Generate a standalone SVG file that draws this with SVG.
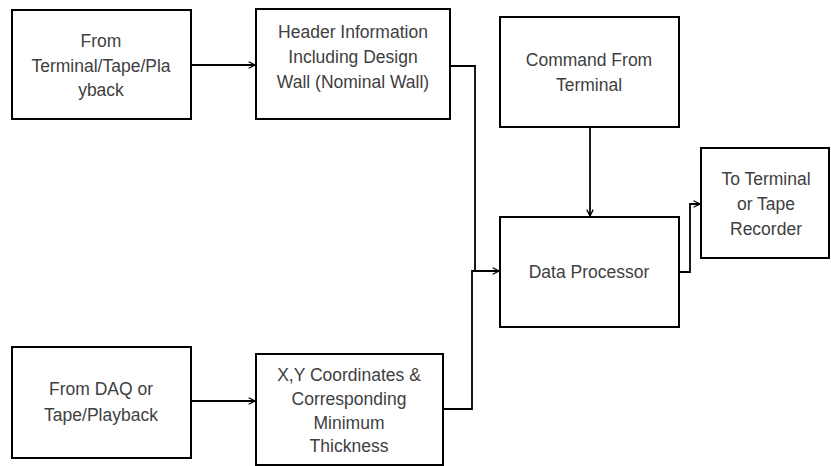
<svg xmlns="http://www.w3.org/2000/svg" width="831" height="466" viewBox="0 0 831 466">
<defs>
<marker id="arr" viewBox="0 0 10 10" refX="9" refY="5" markerWidth="8" markerHeight="8" markerUnits="userSpaceOnUse" orient="auto">
<path d="M1,1 L9,5 L1,9" fill="none" stroke="#000" stroke-width="1.6"/>
</marker>
<style>
.box{fill:#fff;stroke:#000;stroke-width:2}
.t{font-family:"Liberation Sans",Arial,sans-serif;font-size:17.5px;fill:#404040;text-anchor:middle}
.c{fill:none;stroke:#000;stroke-width:1.8}
</style>
</defs>
<rect width="831" height="466" fill="#fff"/>
<g id="n1"><rect class="box" x="12" y="10" width="179" height="109"/>
<text class="t" x="101" y="47">From</text><text class="t" x="101" y="72">Terminal/Tape/Pla</text><text class="t" x="101" y="96">yback</text></g>
<g id="n2"><rect class="box" x="256" y="9" width="194" height="110"/>
<text class="t" x="353" y="38">Header Information</text><text class="t" x="353" y="63">Including Design</text><text class="t" x="353" y="88">Wall (Nominal Wall)</text></g>
<g id="n3"><rect class="box" x="500" y="17" width="179" height="110"/>
<text class="t" x="589" y="66">Command From</text><text class="t" x="589" y="91">Terminal</text></g>
<g id="n4"><rect class="box" x="500" y="217" width="179" height="110"/>
<text class="t" x="589" y="278">Data Processor</text></g>
<g id="n5"><rect class="box" x="701" y="148" width="128" height="110"/>
<text class="t" x="766" y="185">To Terminal</text><text class="t" x="766" y="210">or Tape</text><text class="t" x="766" y="235">Recorder</text></g>
<g id="n6"><rect class="box" x="12" y="347" width="179" height="111"/>
<text class="t" x="101" y="395">From DAQ or</text><text class="t" x="101" y="421">Tape/Playback</text></g>
<g id="n7"><rect class="box" x="256" y="354" width="187" height="111"/>
<text class="t" x="349" y="381">X,Y Coordinates &amp;</text><text class="t" x="349" y="405">Corresponding</text><text class="t" x="349" y="429">Minimum</text><text class="t" x="349" y="452">Thickness</text></g>
<g id="connectors">
<path class="c" d="M191,65 H255" marker-end="url(#arr)"/>
<path class="c" d="M191,401 H255" marker-end="url(#arr)"/>
<path class="c" d="M450,66 H475 V271"/>
<path class="c" d="M443,409 H472 V271 H499" marker-end="url(#arr)"/>
<path class="c" d="M590,127 V216" marker-end="url(#arr)"/>
<path class="c" d="M679,272 H690 V204 H700" marker-end="url(#arr)"/>
</g>
</svg>
